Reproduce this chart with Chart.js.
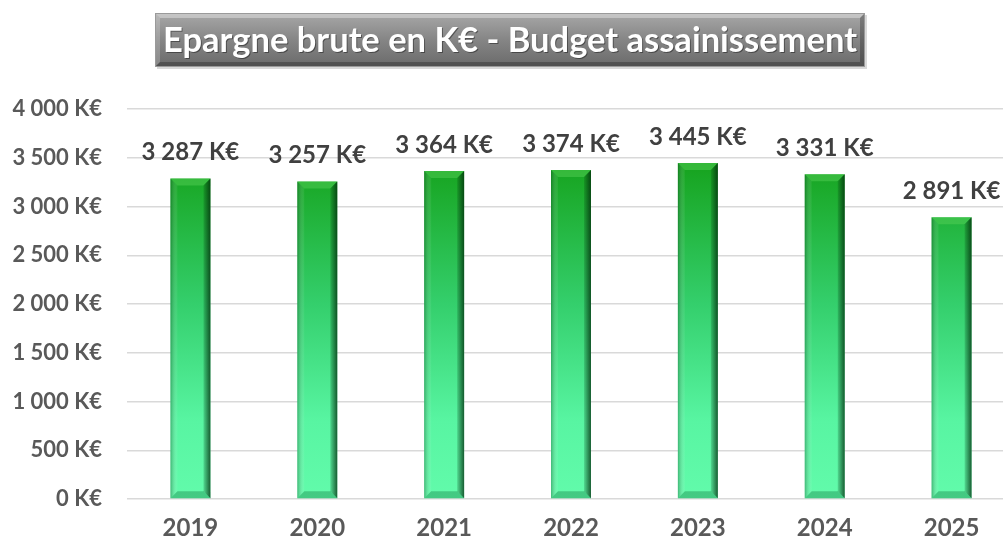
<!DOCTYPE html>
<html><head><meta charset="utf-8">
<script src="https://cdn.jsdelivr.net/npm/chart.js@4"></script>
<style>html,body{margin:0;padding:0;overflow:hidden;background:#fff}#wrap{width:1016px;height:545px}</style>
</head><body><div id="wrap"><canvas id="c" width="1016" height="545"></canvas></div>
<script>
const categories = ['2019','2020','2021','2022','2023','2024','2025'];
const values = [3287, 3257, 3364, 3374, 3445, 3331, 2891];
const yMin = 0, yMax = 4000, yStep = 500;
const titleText = 'Epargne brute en K€ - Budget assainissement';
const unit = ' K€';

function fmt(v){ return String(Math.round(v)).replace(/\B(?=(\d{3})+(?!\d))/g,' ') + unit; }
const FONT = 'Lato, "Open Sans", sans-serif';

const titlePlugin = {
  id: 'titleBox',
  beforeDraw(chart){
    const ctx = chart.ctx;
    const x = 155, y = 13, w = 710, h = 54;
    ctx.save();
    ctx.fillStyle = 'rgba(0,0,0,0.15)';
    ctx.fillRect(x+2, y+2, w, h);
    const g = ctx.createLinearGradient(0, y, 0, y+h);
    g.addColorStop(0, '#a8a8a8');
    g.addColorStop(0.5, '#858585');
    g.addColorStop(1, '#6a6a6a');
    ctx.fillStyle = g;
    ctx.fillRect(x, y, w, h);
    const b = 5;
    ctx.fillStyle = 'rgba(255,255,255,0.35)';
    ctx.beginPath(); ctx.moveTo(x,y); ctx.lineTo(x+w,y); ctx.lineTo(x+w-b,y+b); ctx.lineTo(x+b,y+b); ctx.closePath(); ctx.fill();
    ctx.fillStyle = 'rgba(255,255,255,0.2)';
    ctx.beginPath(); ctx.moveTo(x,y); ctx.lineTo(x+b,y+b); ctx.lineTo(x+b,y+h-b); ctx.lineTo(x,y+h); ctx.closePath(); ctx.fill();
    ctx.fillStyle = 'rgba(0,0,0,0.25)';
    ctx.beginPath(); ctx.moveTo(x+w,y); ctx.lineTo(x+w,y+h); ctx.lineTo(x+w-b,y+h-b); ctx.lineTo(x+w-b,y+b); ctx.closePath(); ctx.fill();
    ctx.beginPath(); ctx.moveTo(x,y+h); ctx.lineTo(x+w,y+h); ctx.lineTo(x+w-b,y+h-b); ctx.lineTo(x+b,y+h-b); ctx.closePath(); ctx.fill();
    ctx.strokeStyle = '#9a9a9a'; ctx.lineWidth = 1;
    ctx.strokeRect(x+0.5, y+0.5, w-1, h-1);
    ctx.font = 'bold 34.5px ' + FONT;
    ctx.textAlign = 'center'; ctx.textBaseline = 'middle';
    ctx.fillStyle = 'rgba(0,0,0,0.4)';
    ctx.fillText(titleText, x + w/2 + 1, y + h/2 + 2);
    ctx.fillStyle = '#ffffff';
    ctx.fillText(titleText, x + w/2, y + h/2 + 1);
    ctx.restore();
  }
};

const barDeco = {
  id: 'barDeco',
  afterDatasetsDraw(chart){
    const ctx = chart.ctx;
    const meta = chart.getDatasetMeta(0);
    ctx.save();
    meta.data.forEach((el, i) => {
      const p = el.getProps(['x','y','base','width'], true);
      const l = p.x - p.width/2, r = p.x + p.width/2, t = p.y, bt = p.base;
      const b = 7;
      ctx.fillStyle = 'rgba(90,210,90,0.45)';
      ctx.beginPath(); ctx.moveTo(l,t); ctx.lineTo(r,t); ctx.lineTo(r-b,t+b); ctx.lineTo(l+b,t+b); ctx.closePath(); ctx.fill();
      const gr = ctx.createLinearGradient(r-b, 0, r, 0);
      gr.addColorStop(0, 'rgba(0,40,10,0.15)');
      gr.addColorStop(1, 'rgba(0,40,10,0.75)');
      ctx.fillStyle = gr;
      ctx.beginPath(); ctx.moveTo(r,t); ctx.lineTo(r,bt); ctx.lineTo(r-b,bt-b); ctx.lineTo(r-b,t+b); ctx.closePath(); ctx.fill();
      const gl = ctx.createLinearGradient(l, 0, l+b, 0);
      gl.addColorStop(0, 'rgba(0,60,20,0.35)');
      gl.addColorStop(1, 'rgba(255,255,255,0.05)');
      ctx.fillStyle = gl;
      ctx.beginPath(); ctx.moveTo(l,t); ctx.lineTo(l+b,t+b); ctx.lineTo(l+b,bt-b); ctx.lineTo(l,bt); ctx.closePath(); ctx.fill();
      ctx.fillStyle = 'rgba(0,90,40,0.3)';
      ctx.beginPath(); ctx.moveTo(l,bt); ctx.lineTo(r,bt); ctx.lineTo(r-b,bt-b); ctx.lineTo(l+b,bt-b); ctx.closePath(); ctx.fill();
      ctx.font = 'bold 24px ' + FONT;
      ctx.fillStyle = '#404040';
      ctx.textAlign = 'center'; ctx.textBaseline = 'middle';
      ctx.fillText(fmt(values[i]), p.x, t - 26);
    });
    ctx.restore();
  }
};

const ctx = document.getElementById('c').getContext('2d');
new Chart(ctx, {
  type: 'bar',
  data: {
    labels: categories,
    datasets: [{
      data: values,
      barPercentage: 0.315,
      categoryPercentage: 1,
      borderWidth: 0,
      backgroundColor(c){
        const ca = c.chart.chartArea;
        if (!ca) return '#2db84a';
        const g = c.chart.ctx.createLinearGradient(0, ca.top, 0, ca.bottom);
        g.addColorStop(0, '#0f8f14');
        g.addColorStop(0.15, '#17a420');
        g.addColorStop(0.5, '#34cf6c');
        g.addColorStop(0.8, '#58f5a2');
        g.addColorStop(1, '#62fbab');
        return g;
      }
    }]
  },
  options: {
    responsive: false,
    animation: false,
    layout: { padding: { top: 109, right: 1, left: 0, bottom: 0 } },
    plugins: { legend: { display: false }, title: { display: false }, tooltip: { enabled: false } },
    scales: {
      x: {
        grid: { display: false, drawTicks: false },
        border: { display: false },
        ticks: { color: '#595959', font: { family: FONT, size: 24, weight: 'bold' }, padding: 15 },
        afterFit(s){ s.height = 46; }
      },
      y: {
        min: yMin, max: yMax,
        grid: { color: '#d9d9d9', lineWidth: 1.5, drawTicks: false },
        border: { display: false },
        ticks: { stepSize: yStep, color: '#595959', font: { family: FONT, size: 22, weight: 'bold' }, padding: 25, callback: v => fmt(v) },
        afterFit(s){ s.width = 127; }
      }
    }
  },
  plugins: [titlePlugin, barDeco]
});
</script>
</body></html>
